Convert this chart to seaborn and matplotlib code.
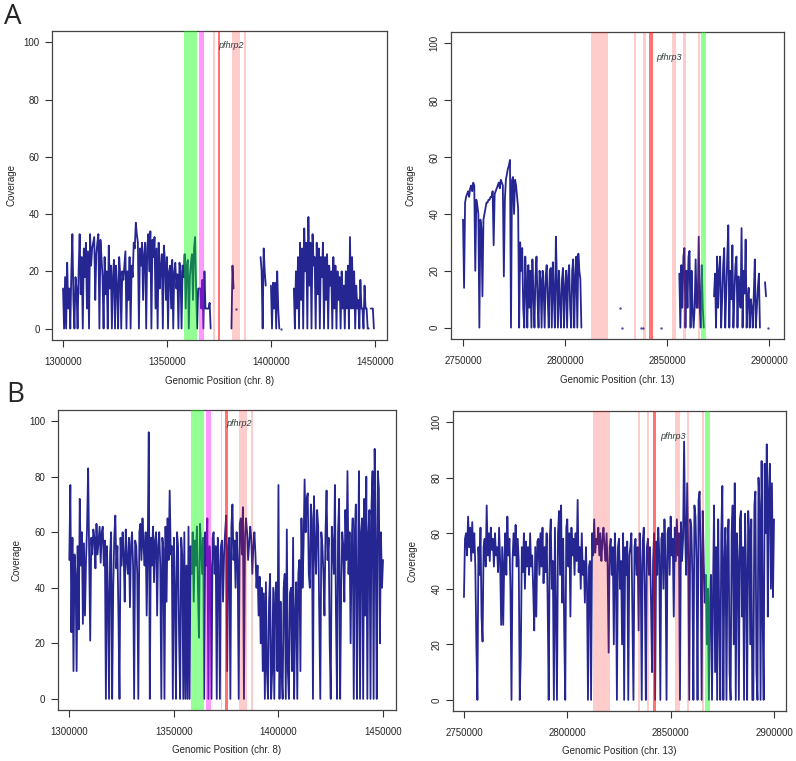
import numpy as np
import pandas as pd
import matplotlib
matplotlib.use('Agg')
import matplotlib.pyplot as plt
import seaborn as sns

NA = np.nan
STEP = 500  # bp between coverage samples

# ---- coverage (one value every 500 bp) ----
# panel A, chr 8, 1300000..1450000
cov_a_chr8 = [
    14, 0, 18, 0, 23, 7, 14, 0, 20, 33, 10, 0, 18, 14, 0, 20, 33, 12, 25, 0,
    28, 18, 30, 7, 27, 0, 33, 22, 28, 30, 32, 10, 26, 30, 33, 0, 31, 25, 18, 0,
    25, 12, 20, 0, 29, 14, 22, 0, 18, 24, 0, 22, 15, 0, 25, 19, 0, 20, 17, 22,
    27, 0, 20, 10, 25, 0, 22, 18, 30, 28, 37, 33, 30, 0, 28, 22, 30, 10, 26, 30,
    0, 28, 33, 20, 34, 0, 31, 25, 32, 7, 28, 0, 30, 14, 22, 26, 0, 29, 24, 10,
    25, 0, 20, 22, 7, 24, 0, 20, 23, 14, 19, 0, 23, 20, 0, 22, 18, 26, 7, 22,
    24, 0, 18, 23, 26, 10, 28, 32, 14, 0, 14, 14, 14, 7, 17, 0, 20, 7, 7, 7,
    7, 9, 0, NA, NA, NA, NA, NA, NA, NA, NA, NA, NA, NA, NA, NA, NA, NA, NA, NA,
    NA, NA, 0, 22, 14, NA, 7, NA, NA, NA, NA, NA, NA, NA, NA, NA, NA, NA, NA, NA,
    NA, NA, NA, NA, NA, NA, NA, NA, NA, NA, 25, 20, 0, 28, 20, 15, NA, NA, NA, NA,
    15, 0, 16, 7, 16, 0, 20, 7, 0, NA, 0, NA, NA, NA, NA, NA, NA, NA, NA, NA,
    NA, NA, 14, 0, 20, 7, 25, 0, 30, 10, 28, 0, 35, 20, 30, 0, 39, 15, 30, 0,
    33, 22, 25, 0, 30, 12, 28, 0, 25, 18, 30, 0, 25, 10, 26, 0, 22, 15, 20, 0,
    25, 7, 22, 0, 20, 10, 18, 0, 20, 7, 15, 0, 20, 7, 22, 0, 32, 7, 25, 7,
    20, 0, 15, 7, 10, 0, 17, 7, 7, 0, 15, 7, 7, 0, 0, NA, 7, 7, 7, 0,
    NA,
]

# panel A, chr 13, 2750000..2900000
cov_a_chr13 = [
    38, 14, 44, 46, 47, 48, 46, 49, 50, 48, 51, 50, 20, 45, 43, 40, 0, 38, 35, 11,
    38, 40, 42, 44, 44, 45, 45, 46, 46, 48, 29, 47, 48, 49, 50, 51, 49, 52, 51, 50,
    18, 45, 52, 54, 56, 57, 59, 0, 52, 53, 40, 52, 50, 46, 42, 0, 30, 20, 28, 7,
    0, 25, 14, 0, 22, 7, 20, 0, 24, 12, 0, 18, 25, 10, 0, 20, 17, 0, 20, 14,
    0, 18, 22, 10, 0, 20, 21, 0, 23, 12, 0, 32, 17, 0, 20, 10, 0, 17, 21, 0,
    14, 20, 0, 18, 22, 7, 0, 20, 24, 0, 18, 25, 0, 26, 20, 17, 0, NA, NA, NA,
    NA, NA, NA, NA, NA, NA, NA, NA, NA, NA, NA, NA, NA, NA, NA, NA, NA, NA, NA, NA,
    NA, NA, NA, NA, NA, NA, NA, NA, NA, NA, NA, NA, NA, NA, 7, NA, 0, NA, NA, NA,
    NA, NA, NA, NA, NA, NA, NA, NA, NA, NA, NA, NA, NA, NA, 0, NA, 0, NA, NA, NA,
    NA, NA, NA, NA, NA, NA, NA, NA, NA, NA, NA, NA, NA, NA, 0, NA, NA, NA, NA, NA,
    NA, NA, NA, NA, NA, NA, NA, NA, NA, NA, NA, NA, 19, 0, 22, 7, 25, 28, 0, 20,
    7, 25, 27, 0, 20, 7, 0, 7, 24, 7, 7, 32, 7, 0, 22, 7, 0, NA, NA, NA,
    NA, NA, NA, NA, NA, NA, 11, 19, 0, 25, 7, 20, 25, 0, 10, 22, 28, 0, 12, 25,
    36, 0, 20, 10, 29, 0, 12, 22, 25, 0, 18, 10, 7, 35, 0, 20, 12, 31, 0, 10,
    14, 0, 10, 7, 0, 12, 24, 0, 7, 14, 19, 0, NA, NA, NA, NA, 16, 11, NA, 0,
    NA,
]

# panel B, chr 8, 1300000..1450000
cov_b_chr8 = [
    50, 77, 24, 58, 10, 52, 45, 10, 55, 25, 72, 48, 60, 27, 56, 30, 50, 62, 83, 52,
    21, 58, 52, 61, 58, 47, 63, 52, 57, 62, 49, 60, 62, 48, 57, 0, 55, 38, 0, 52,
    60, 0, 40, 58, 66, 47, 55, 30, 0, 58, 48, 60, 52, 35, 61, 50, 45, 58, 33, 55,
    60, 48, 0, 57, 55, 45, 0, 60, 63, 50, 65, 55, 48, 60, 30, 55, 96, 0, 58, 48,
    62, 42, 57, 60, 30, 55, 60, 48, 0, 58, 54, 0, 62, 35, 65, 50, 75, 52, 55, 0,
    58, 40, 0, 60, 55, 22, 0, 58, 52, 0, 60, 0, 48, 0, 62, 0, 55, 45, 60, 35,
    57, 48, 62, 40, 22, 63, 55, 45, 58, 0, 60, 48, 65, 0, 55, 48, 0, 58, 60, 45,
    55, 0, 58, 48, 0, 55, 57, 35, 52, 60, 66, 10, 55, 58, 0, 62, 70, 50, 57, 40,
    60, 50, 0, 63, 65, 52, 69, 0, 58, 65, 60, 50, 56, 62, 58, 45, 55, 60, 52, 40,
    48, 30, 44, 20, 40, 10, 38, 0, 42, 10, 0, 35, 45, 0, 10, 40, 0, 38, 42, 10,
    77, 0, 35, 10, 0, 40, 45, 0, 61, 10, 0, 38, 40, 10, 58, 0, 30, 42, 0, 45,
    50, 10, 65, 40, 55, 79, 60, 72, 74, 45, 40, 70, 65, 0, 73, 55, 45, 68, 62, 30,
    0, 60, 55, 45, 30, 60, 75, 50, 58, 20, 0, 62, 55, 45, 77, 30, 0, 60, 72, 0,
    40, 60, 55, 35, 68, 50, 82, 45, 60, 20, 55, 65, 0, 60, 70, 0, 45, 82, 0, 60,
    65, 0, 72, 30, 80, 0, 60, 68, 0, 70, 82, 0, 90, 55, 0, 82, 76, 20, 60, 40,
    50,
]

# panel B, chr 13, 2750000..2900000
cov_b_chr13 = [
    37, 58, 60, 52, 66, 55, 62, 50, 64, 53, 60, 48, 20, 0, 55, 45, 62, 30, 21, 55,
    58, 48, 70, 52, 60, 50, 62, 54, 58, 48, 60, 52, 55, 46, 62, 50, 27, 55, 27, 50,
    60, 45, 66, 52, 58, 40, 0, 50, 60, 52, 63, 48, 58, 50, 0, 16, 55, 46, 60, 40,
    57, 48, 55, 45, 60, 48, 52, 40, 25, 55, 30, 57, 58, 45, 60, 48, 62, 42, 55, 46,
    60, 35, 0, 58, 65, 40, 50, 0, 62, 30, 0, 60, 68, 45, 70, 35, 58, 25, 0, 62,
    65, 48, 60, 30, 62, 52, 58, 45, 60, 50, 72, 46, 55, 40, 60, 45, 50, 35, 55, 42,
    0, 48, 50, 0, 60, 52, 65, 53, 58, 56, 62, 52, 60, 50, 57, 62, 55, 50, 60, 48,
    17, 55, 58, 45, 55, 20, 60, 48, 0, 55, 58, 40, 50, 20, 60, 0, 55, 45, 57, 0,
    52, 55, 60, 30, 0, 55, 58, 45, 55, 25, 60, 48, 0, 57, 62, 40, 0, 55, 58, 45,
    55, 35, 10, 50, 60, 0, 57, 45, 62, 52, 0, 58, 60, 40, 65, 50, 0, 60, 62, 45,
    66, 52, 58, 30, 62, 50, 65, 52, 60, 0, 64, 50, 58, 93, 60, 45, 78, 52, 0, 65,
    62, 45, 0, 70, 66, 50, 0, 72, 75, 52, 0, 68, 50, 35, 45, 20, 40, 0, 35, 45,
    0, 40, 70, 10, 55, 0, 65, 30, 0, 60, 77, 0, 50, 62, 0, 55, 65, 10, 0, 60,
    70, 20, 78, 0, 60, 50, 0, 65, 68, 30, 55, 0, 67, 45, 0, 68, 60, 20, 65, 0,
    0, 70, 75, 10, 0, 80, 70, 0, 86, 30, 0, 85, 60, 92, 30, 75, 85, 40, 78, 37,
    65,
]

# highlighted regions (start, end, kind)
regions_chr8 = [
    (1358300, 1364300, 'green'), (1365400, 1367800, 'magenta'),
    (1372300, 1373000, 'pink'), (1374600, 1375700, 'red'),
    (1381100, 1385000, 'pink'), (1386800, 1388000, 'pink'),
]
regions_chr13 = [
    (2812500, 2820800, 'pink'), (2834000, 2835000, 'pink'),
    (2838400, 2839500, 'pink'), (2841300, 2842900, 'red'),
    (2852300, 2854400, 'pink'), (2858000, 2859100, 'pink'),
    (2865000, 2866100, 'pink'), (2866700, 2868900, 'green'),
]
band_style = {
    'green': ('#00ff00', 0.42),
    'magenta': ('#ff00ff', 0.4),
    'pink': ('#ff0000', 0.2),
    'red': ('#ff0000', 0.55),
}

xticks_chr8 = [1300000, 1350000, 1400000, 1450000]
xticks_chr13 = [2750000, 2800000, 2850000, 2900000]
yticks = [0, 20, 40, 60, 80, 100]

LINE = '#000080'

sns.set_style('white')
plt.rcParams['font.family'] = ['Liberation Sans', 'DejaVu Sans']

fig = plt.figure(figsize=(7.96, 7.61), dpi=100)


def px_axes(l, t, r, b):
    W, H = 796, 761
    return fig.add_axes([l / W, 1 - b / H, (r - l) / W, (b - t) / H])


def draw_panel(ax, start, values, regions, xticks, xlim, chrom, gene, gene_xy, rot):
    df = pd.DataFrame({'pos': start + STEP * np.arange(len(values)), 'cov': values})
    df['seg'] = df['cov'].isna().cumsum()
    df = df.dropna()
    n = df.groupby('seg')['cov'].transform('size')
    sns.lineplot(data=df[n > 1], x='pos', y='cov', units='seg', estimator=None,
                 sort=False, color=LINE, lw=1.3, alpha=0.85, ax=ax)
    dots = df[n == 1]
    if len(dots):
        sns.scatterplot(data=dots, x='pos', y='cov', color=LINE, s=3,
                        linewidth=0, alpha=0.7, ax=ax)
    for a, b, kind in regions:
        c, al = band_style[kind]
        ax.axvspan(a, b, color=c, alpha=al, lw=0, zorder=3)
    ax.text(gene_xy[0], gene_xy[1], gene, style='italic', fontsize=6.5,
            ha='center', va='center', color='#2f3b3b', zorder=4)

    ax.set_xlim(*xlim)
    ax.set_ylim(-4, 104)
    ax.set_xticks(xticks)
    ax.set_xticklabels([str(v) for v in xticks])
    ax.set_yticks(yticks)
    ax.set_yticklabels([str(v) for v in yticks])
    ax.tick_params(axis='x', length=5, width=0.8, color='#333333',
                   labelsize=7, pad=7, bottom=True)
    ax.tick_params(axis='y', length=5, width=0.8, color='#333333',
                   labelsize=7, pad=4, left=True)
    if rot:
        for t in ax.get_yticklabels():
            t.set_rotation(90)
            t.set_va('center')
            t.set_ha('center')
        ax.tick_params(axis='y', pad=7)
    for s in ax.spines.values():
        s.set_color('#444444')
        s.set_linewidth(0.9)
    ax.set_xlabel(f'Genomic Position (chr. {chrom})', fontsize=7)
    ax.set_ylabel('Coverage', fontsize=7)
    ax.xaxis.set_label_coords(0.5, -0.132)
    ax.xaxis.label.set_va('center')
    ax.yaxis.set_label_coords(-0.122, 0.5)
    ax.yaxis.label.set_va('center')


ax1 = px_axes(52, 31, 387, 340)
draw_panel(ax1, 1300000, cov_a_chr8, regions_chr8, xticks_chr8,
           (1294700, 1455800), 8, 'pfhrp2', (1381000, 99), False)
ax2 = px_axes(451, 32, 784, 339)
draw_panel(ax2, 2750000, cov_a_chr13, regions_chr13, xticks_chr13,
           (2744100, 2907300), 13, 'pfhrp3', (2851000, 95), True)
ax3 = px_axes(58, 410, 396, 710)
draw_panel(ax3, 1300000, cov_b_chr8, regions_chr8, xticks_chr8,
           (1294600, 1456200), 8, 'pfhrp2', (1381000, 99), False)
ax4 = px_axes(453, 411, 786, 711)
draw_panel(ax4, 2750000, cov_b_chr13, regions_chr13, xticks_chr13,
           (2744700, 2905800), 13, 'pfhrp3', (2851000, 95), True)

fig.text(4 / 796, 1 - 17 / 761, 'A', fontsize=20, family='Open Sans',
         ha='left', va='center')
fig.text(6 / 796, 1 - 395 / 761, 'B', fontsize=20, family='Open Sans',
         ha='left', va='center')

fig.savefig('out.png', dpi=100, facecolor='white')
